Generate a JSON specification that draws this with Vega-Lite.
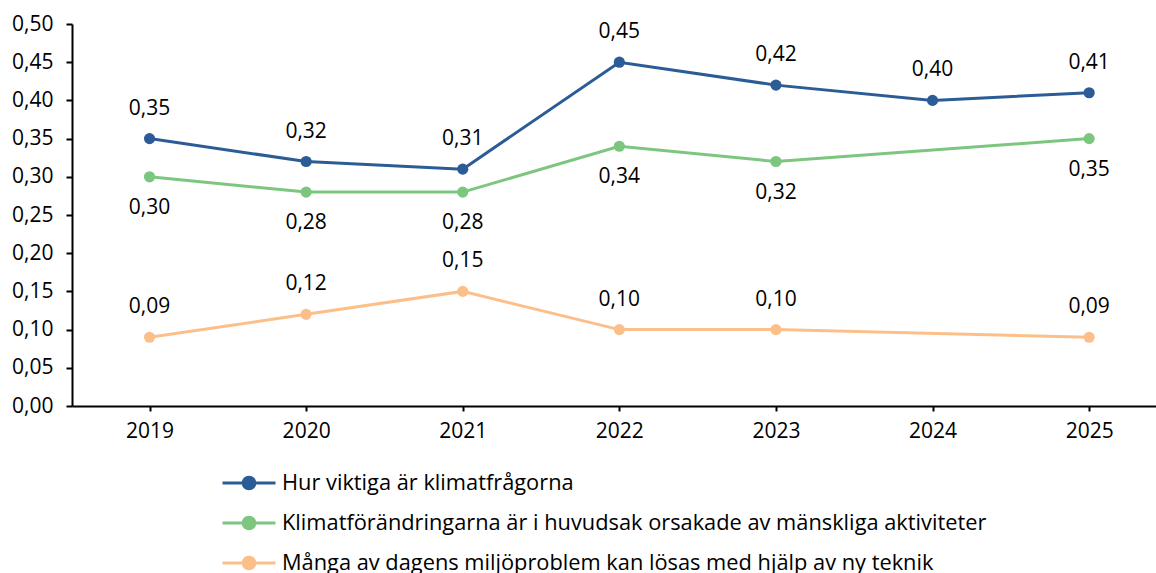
{
  "$schema": "https://vega.github.io/schema/vega-lite/v6.json",
  "width": 1084,
  "height": 382,
  "autosize": {"type": "none"},
  "padding": {"left": 72, "top": 24, "right": 0, "bottom": 167},
  "config": {
    "view": {"stroke": null},
    "font": "Open Sans",
    "locale": {"number": {"decimal": ",", "thousands": " ", "grouping": [3], "currency": ["", " kr"]}},
    "axis": {"labelFont": "Open Sans", "labelFontSize": 21, "labelColor": "#000000", "domainColor": "#000000", "tickColor": "#000000", "domainWidth": 2, "tickWidth": 2, "grid": false, "title": null}
  },
  "data": {
    "values": [
      {"year": "2019", "series": "Hur viktiga är klimatfrågorna", "value": 0.35},
      {"year": "2020", "series": "Hur viktiga är klimatfrågorna", "value": 0.32},
      {"year": "2021", "series": "Hur viktiga är klimatfrågorna", "value": 0.31},
      {"year": "2022", "series": "Hur viktiga är klimatfrågorna", "value": 0.45},
      {"year": "2023", "series": "Hur viktiga är klimatfrågorna", "value": 0.42},
      {"year": "2024", "series": "Hur viktiga är klimatfrågorna", "value": 0.40},
      {"year": "2025", "series": "Hur viktiga är klimatfrågorna", "value": 0.41},
      {"year": "2019", "series": "Klimatförändringarna är i huvudsak orsakade av mänskliga aktiviteter", "value": 0.30},
      {"year": "2020", "series": "Klimatförändringarna är i huvudsak orsakade av mänskliga aktiviteter", "value": 0.28},
      {"year": "2021", "series": "Klimatförändringarna är i huvudsak orsakade av mänskliga aktiviteter", "value": 0.28},
      {"year": "2022", "series": "Klimatförändringarna är i huvudsak orsakade av mänskliga aktiviteter", "value": 0.34},
      {"year": "2023", "series": "Klimatförändringarna är i huvudsak orsakade av mänskliga aktiviteter", "value": 0.32},
      {"year": "2025", "series": "Klimatförändringarna är i huvudsak orsakade av mänskliga aktiviteter", "value": 0.35},
      {"year": "2019", "series": "Många av dagens miljöproblem kan lösas med hjälp av ny teknik", "value": 0.09},
      {"year": "2020", "series": "Många av dagens miljöproblem kan lösas med hjälp av ny teknik", "value": 0.12},
      {"year": "2021", "series": "Många av dagens miljöproblem kan lösas med hjälp av ny teknik", "value": 0.15},
      {"year": "2022", "series": "Många av dagens miljöproblem kan lösas med hjälp av ny teknik", "value": 0.10},
      {"year": "2023", "series": "Många av dagens miljöproblem kan lösas med hjälp av ny teknik", "value": 0.10},
      {"year": "2025", "series": "Många av dagens miljöproblem kan lösas med hjälp av ny teknik", "value": 0.09}
    ]
  },
  "encoding": {
    "x": {
      "field": "year", "type": "ordinal",
      "scale": {"type": "point", "padding": 0.461, "align": 0.537},
      "axis": {"labelAngle": 0, "tickSize": 5, "labelPadding": 9}
    },
    "y": {
      "field": "value", "type": "quantitative",
      "scale": {"domain": [0, 0.5], "nice": false, "zero": true},
      "axis": {"values": [0, 0.05, 0.1, 0.15, 0.2, 0.25, 0.3, 0.35, 0.4, 0.45, 0.5], "format": ".2f", "tickSize": 6, "labelPadding": 13}
    }
  },
  "layer": [
    {
      "mark": {"type": "line", "strokeWidth": 3, "point": {"filled": true, "size": 125, "opacity": 1}},
      "encoding": {
        "color": {
          "field": "series", "type": "nominal",
          "scale": {
            "domain": ["Hur viktiga är klimatfrågorna", "Klimatförändringarna är i huvudsak orsakade av mänskliga aktiviteter", "Många av dagens miljöproblem kan lösas med hjälp av ny teknik"],
            "range": ["#2B5C96", "#7DC680", "#FDBF8A"]
          },
          "legend": {
            "title": null,
            "orient": "none",
            "legendX": 149,
            "legendY": 431,
            "direction": "vertical",
            "symbolType": "M-1,0L1,0M-0.22,0A0.22,0.22 0 1,1 0.22,0A0.22,0.22 0 1,1 -0.22,0Z",
            "symbolSize": 2809,
            "symbolStrokeWidth": 3,
            "symbolOpacity": 1,
            "labelFont": "Open Sans",
            "labelFontSize": 21.8,
            "labelColor": "#000000",
            "labelOffset": 5,
            "rowPadding": -13,
            "labelLimit": 1000,
            "padding": 0,
            "encode": {
              "symbols": {"update": {"stroke": {"scale": "color", "field": "value"}, "fill": {"scale": "color", "field": "value"}, "opacity": {"value": 1}}}
            }
          }
        }
      }
    },
    {
      "transform": [{"filter": "datum.series !== 'Klimatförändringarna är i huvudsak orsakade av mänskliga aktiviteter'"}],
      "mark": {"type": "text", "fontSize": 21, "font": "Open Sans", "color": "#000000", "dy": -30, "baseline": "middle"},
      "encoding": {"text": {"field": "value", "type": "quantitative", "format": ".2f"}}
    },
    {
      "transform": [{"filter": "datum.series === 'Klimatförändringarna är i huvudsak orsakade av mänskliga aktiviteter'"}],
      "mark": {"type": "text", "fontSize": 21, "font": "Open Sans", "color": "#000000", "dy": 31, "baseline": "middle"},
      "encoding": {"text": {"field": "value", "type": "quantitative", "format": ".2f"}}
    }
  ]
}
